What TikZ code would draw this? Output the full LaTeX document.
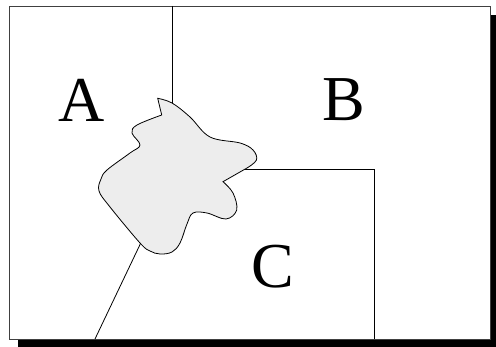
\documentclass[tikz,border=0pt]{standalone}
\usepackage{fontspec}
\setmainfont{Liberation Serif}
\usepackage{tikz}
\usetikzlibrary{positioning}
\tikzstyle{frame}  = [draw=black!75, line width=0.9pt, fill=white]
\tikzstyle{border} = [draw=black, line width=0.8pt]
\tikzstyle{blob}   = [draw=black, line width=0.8pt, fill=black!7]
\tikzstyle{region} = [font=\fontsize{64}{64}\selectfont, inner sep=0pt]

\begin{document}
\begin{tikzpicture}[x=1pt, y=-1pt]
  \useasboundingbox (0,0) rectangle (496,347);
  % shadow and frame
  \fill[black] (18,15) rectangle (497,347);
  \draw[frame] (9,6) rectangle (490,339);

  % border points
  \coordinate (ABtop) at (172,6);
  \coordinate (ABend) at (172,108);
  \coordinate (Cin)   at (240,169);
  \coordinate (Ccor)  at (374,169);
  \coordinate (Cbot)  at (374,339);
  \coordinate (ACin)  at (146,232);
  \coordinate (ACbot) at (95,339);

  % borders between regions
  \draw[border] (ABtop) -- (ABend);
  \draw[border] (Cin) -- (Ccor) -- (Cbot);
  \draw[border] (ACin) -- (ACbot);

  % the blob on top
  \filldraw[blob] plot[smooth, tension=0.6] coordinates {(157.7,98.3) (172,103) (190,117) (210,137) (240,143) (253,150) (256.5,160) (247,168)}
    -- plot[smooth, tension=0.6] coordinates {(223,181.7) (233,193) (236.7,210) (226,219) (207,213) (193,213) (187,224) (180,243) (172,252) (160,254) (150,251) (140,243) (110,207) (99,191) (101,179) (107,170) (130,153) (140,145) (132,133) (137,125) (161.7,115)}
    -- cycle;

  % region labels
  \node[region] (A) at (82,100) {A};
  \node[region] (B) at (344,100) {B};
  \node[region] (C) at (273,267) {C};
\end{tikzpicture}
\end{document}
